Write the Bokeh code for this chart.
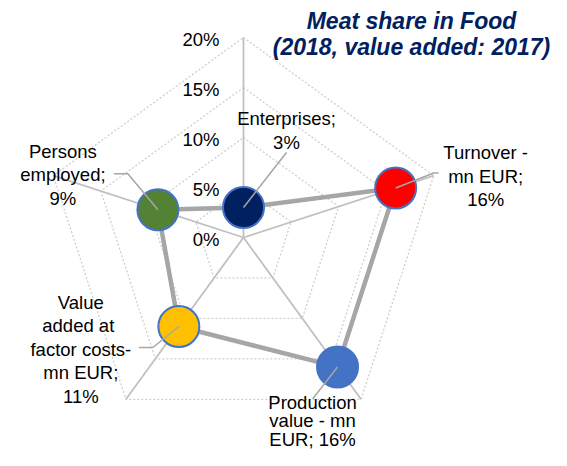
import numpy as np
from bokeh.plotting import figure
from bokeh.models import Range1d
from bokeh.core.properties import value
from bokeh.embed import file_html
from bokeh.resources import INLINE

# ---- data ----
categories = ["Enterprises", "Turnover", "Production value", "Value added at factor costs", "Persons employed"]
shares = [3, 16, 16, 11, 9]
label_prefix = ["Enterprises;", "Turnover -\nmn EUR;", "Production\nvalue - mn\nEUR;", "Value\nadded  at\nfactor costs-\nmn EUR;", "Persons\nemployed;"]
label_sep = ["\n", "\n", " ", "\n", "\n"]
tick_values = [0, 5, 10, 15, 20]
tick_labels = ["0%", "5%", "10%", "15%", "20%"]
title_lines = ["Meat share in Food", "(2018, value added: 2017)"]

# ---- style / layout ----
colors = ["#002060", "#ff0000", "#4472c4", "#ffc000", "#548235"]
PX = 10.0  # pixels per percentage point
# label block centre offsets from point (px, screen: +x right, +y down)
lab_off = [(43, -77), (90, -12), (-25, 54), (-98, 23), (-95, -35)]
lab_lh = [1.12, 1.12, 0.88, 1.12, 1.12]
# leader line vertices (px offsets from point)
leaders = [
    [(0, 0), (43, -55)],
    [(0, 0), (38, -15), (43, -15)],
    [(0, 0), (-25, 32)],
    [(0, 0), (-26, 21), (-40, 21)],
    [(0, 0), (-30, -36), (-44, -36)],
]

n = len(categories)
ang = np.deg2rad(90 - 72 * np.arange(n))
rmax = max(tick_values)

p = figure(width=551, height=450, output_backend="svg", toolbar_location=None,
           x_range=Range1d(-24.3, 30.8), y_range=Range1d(-21.3, 23.7),
           x_axis_location=None, y_axis_location=None, min_border=0,
           outline_line_color=None, background_fill_color="white")
p.grid.visible = False

FONT = value("Liberation Sans")

# pentagon gridlines (dotted)
for t in tick_values[1:]:
    xs = list(t * np.cos(ang)) + [t * np.cos(ang[0])]
    ys = list(t * np.sin(ang)) + [t * np.sin(ang[0])]
    p.line(xs, ys, line_color="#cfcfcf", line_width=1.3, line_dash="2 2")

# spokes
for a in ang:
    p.line([0, rmax * np.cos(a)], [0, rmax * np.sin(a)], line_color="#c0c0c0", line_width=1.8)

# data polygon
vx = np.array(shares) * np.cos(ang)
vy = np.array(shares) * np.sin(ang)
p.line(list(vx) + [vx[0]], list(vy) + [vy[0]], line_color="#a6a6a6", line_width=4.5)

# markers
p.scatter(vx, vy, size=41, fill_color=colors, line_color="#4472c4", line_width=2)

# leader lines
for i in range(n):
    lx = [vx[i] + dx / PX for dx, dy in leaders[i]]
    ly = [vy[i] - dy / PX for dx, dy in leaders[i]]
    p.line(lx, ly, line_color="#a6a6a6", line_width=1.5)

# data labels
for i in range(n):
    txt = label_prefix[i] + label_sep[i] + f"{shares[i]}%"
    dx, dy = lab_off[i]
    p.text([vx[i] + dx / PX], [vy[i] - dy / PX], text=[txt], text_font=FONT,
           text_font_size="18.5px", text_color="#000000", text_align="center",
           text_baseline="middle", text_line_height=lab_lh[i])

# radial tick labels
p.text([-2.4] * len(tick_values), [t - 0.15 for t in tick_values], text=tick_labels,
       text_font=FONT, text_font_size="18.5px", text_color="#000000",
       text_align="right", text_baseline="middle")

# title
p.text([16.8, 16.8], [21.7, 19.1], text=title_lines, text_font=FONT,
       text_font_size="23px", text_font_style="bold italic", text_color="#002060",
       text_align="center", text_baseline="middle")

open("out.html", "w").write(file_html(p, INLINE))
